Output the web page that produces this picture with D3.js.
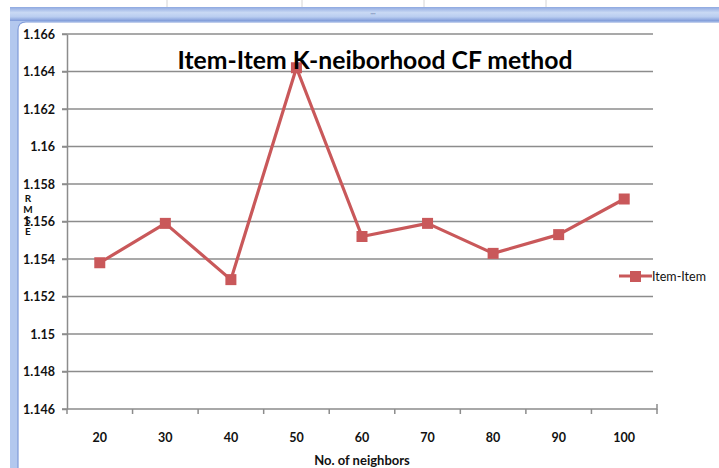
<!DOCTYPE html>
<html><head><meta charset="utf-8">
<script src="https://cdn.jsdelivr.net/npm/d3@7"></script>
<style>html,body{margin:0;padding:0;background:#fff;}svg{display:block;}</style>
</head><body><svg id="c" width="719" height="468"></svg>
<script>
const categories = ["20","30","40","50","60","70","80","90","100"];
const rmseValues = [1.1538, 1.1559, 1.1529, 1.1642, 1.1552, 1.1559, 1.1543, 1.1553, 1.1572];
const yTicks = [1.146,1.148,1.15,1.152,1.154,1.156,1.158,1.16,1.162,1.164,1.166];
const yTickLabels = ["1.146","1.148","1.15","1.152","1.154","1.156","1.158","1.16","1.162","1.164","1.166"];
const seriesName = "Item-Item";
const titleText = "Item-Item K-neiborhood CF method";
const xTitle = "No. of neighbors";
const yTitleLetters = ["R","M","S","E"];

const svg = d3.select("#c");
const font = "'Lato', sans-serif";
const red = "#c9585a";
const grid = "#8c8c8c";

// Excel-like frame
const frame = svg.append("g");
[167,302,424,546].forEach(x=>frame.append("line").attr("x1",x).attr("x2",x).attr("y1",0).attr("y2",7).attr("stroke","#d4d4d4"));
const grad = svg.append("defs").append("linearGradient").attr("id","band").attr("x1",0).attr("x2",0).attr("y1",0).attr("y2",1);
grad.append("stop").attr("offset","0").attr("stop-color","#8fa9e0");
grad.append("stop").attr("offset","0.4").attr("stop-color","#c9d9f4");
grad.append("stop").attr("offset","0.7").attr("stop-color","#b9cdf0");
grad.append("stop").attr("offset","1").attr("stop-color","#7f9ad8");
frame.append("rect").attr("x",10).attr("y",7).attr("width",709).attr("height",14).attr("fill","url(#band)");
frame.append("path").attr("d","M10,21 L10,468 L18,468 L18,30 Q18,22 26,22 L719,22 L719,21 Z").attr("fill","#b3c8ee");
frame.append("path").attr("d","M18,468 L18,30 Q18,22 26,22 L719,22").attr("fill","none").attr("stroke","#7f9ad8").attr("stroke-width",1.2);
frame.append("text").attr("x",373).attr("y",17).attr("text-anchor","middle").attr("font-size",7).attr("fill","#5a6f9c").text("''''");

const x = d3.scaleBand().domain(categories).range([67,657]);
const y = d3.scaleLinear().domain([1.146,1.166]).range([409,34]);

// gridlines
svg.append("g").selectAll("line").data(yTicks.slice(1)).join("line")
  .attr("x1",62).attr("x2",653).attr("y1",d=>y(d)).attr("y2",d=>y(d))
  .attr("stroke",grid).attr("stroke-width",1.5);

// y axis
const yAxis = svg.append("g").attr("transform","translate(67,0)")
  .call(d3.axisLeft(y).tickValues(yTicks).tickFormat((d,i)=>yTickLabels[i]).tickSize(5).tickSizeOuter(0).tickPadding(8));
yAxis.select(".domain").attr("stroke",grid).attr("stroke-width",1.5);
yAxis.selectAll(".tick line").attr("stroke",grid).attr("stroke-width",1.5);
yAxis.selectAll("text").attr("font-family",font).attr("font-size",12.5).attr("fill","#111").attr("font-weight","bold").attr("x",-12);

// x axis
const xAxis = svg.append("g").attr("transform","translate(0,409)")
  .call(d3.axisBottom(x).tickSize(0).tickPadding(24));
xAxis.select(".domain").attr("stroke",grid).attr("stroke-width",1.5).attr("d","M62,0H657V-5");
xAxis.selectAll("text").attr("font-family",font).attr("font-size",12.5).attr("font-weight","bold").attr("fill","#111");
svg.append("g").selectAll("line").data(categories).join("line")
  .attr("x1",d=>x(d)+x.bandwidth()).attr("x2",d=>x(d)+x.bandwidth())
  .attr("y1",409).attr("y2",414).attr("stroke",grid).attr("stroke-width",1.5);
svg.append("line").attr("x1",67).attr("x2",67).attr("y1",409).attr("y2",414).attr("stroke",grid).attr("stroke-width",1.5);

// line
const cx = d=>x(d)+x.bandwidth()/2;
svg.append("path").datum(rmseValues)
  .attr("d",d3.line().x((d,i)=>cx(categories[i])).y(d=>y(d)))
  .attr("fill","none").attr("stroke",red).attr("stroke-width",3.2).attr("stroke-linejoin","round");
svg.append("g").selectAll("rect").data(rmseValues).join("rect")
  .attr("x",(d,i)=>cx(categories[i])-5.5).attr("y",d=>y(d)-5.5)
  .attr("width",11).attr("height",11).attr("fill",red);

// title
svg.append("text").attr("x",375).attr("y",69).attr("text-anchor","middle")
  .attr("font-family",font).attr("font-weight","bold").attr("font-size",25).attr("fill","#000")
  .attr("textLength",395).attr("lengthAdjust","spacingAndGlyphs").text(titleText);

// axis titles
svg.append("text").attr("x",362).attr("y",465).attr("text-anchor","middle")
  .attr("font-family",font).attr("font-weight","bold").attr("font-size",13).attr("fill","#111").text(xTitle);
const yl = [202,213,224,235];
svg.append("g").selectAll("text").data(yTitleLetters).join("text")
  .attr("x",28).attr("y",(d,i)=>yl[i]).attr("text-anchor","middle")
  .attr("font-family",font).attr("font-weight","bold").attr("font-size",10).attr("fill","#111").text(d=>d);

// legend
const lg = svg.append("g");
lg.append("line").attr("x1",619).attr("x2",652).attr("y1",276).attr("y2",276).attr("stroke",red).attr("stroke-width",3.2);
lg.append("rect").attr("x",630).attr("y",271).attr("width",11).attr("height",11).attr("fill",red);
lg.append("text").attr("x",652).attr("y",281).attr("font-family",font).attr("font-size",12.5).attr("fill","#111").text(seriesName);
</script></body></html>
